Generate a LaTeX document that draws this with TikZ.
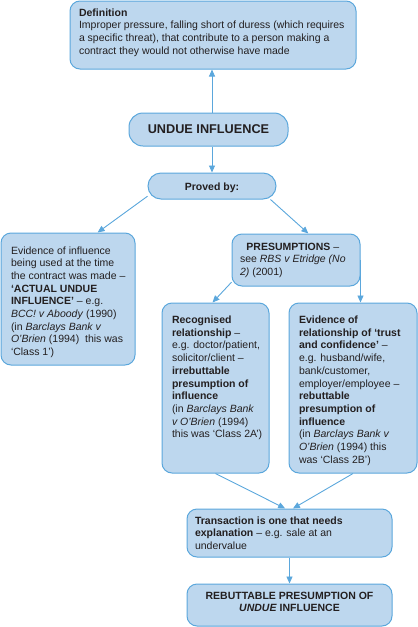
\documentclass[tikz,border=0pt]{standalone}
\usepackage{fontspec}
\setmainfont{Liberation Sans}
\usetikzlibrary{arrows.meta}
\definecolor{boxfill}{HTML}{BDD7EE}
\definecolor{boxline}{HTML}{5BA7DC}
\definecolor{ink}{HTML}{231F20}
% lines set left, in a box of fixed width
\newcommand{\rows}[2]{\makebox[#1][l]{\begin{tabular}[t]{@{}l@{}}#2\end{tabular}}}

\begin{document}
\begin{tikzpicture}[x=1pt,y=1pt,
  bx/.style={draw=boxline,fill=boxfill,line width=1pt,rounded corners=10pt,
    inner sep=0pt,text=ink,font=\fontsize{10.5}{12.7}\selectfont},
  sized/.style n args={3}{minimum width=#1,text height=#2,text depth=#3},
  link/.style={draw=boxline,line width=0.9pt,-{Triangle[length=7pt,width=6pt]}}]
\useasboundingbox (0,0) rectangle (418,-627);

\node[bx,sized={286pt}{15pt}{53pt}] (def) at (213,-35)
  {\rows{268pt}{\textbf{Definition}\\
   Improper pressure, falling short of duress (which requires\\
   a specific threat), that contribute to a person making a\\
   contract they would not otherwise have made}};
\node[bx,sized={159pt}{20.5pt}{12.5pt},rounded corners=14pt,font=\fontsize{12.7}{15}\selectfont\bfseries] (ui) at (208.5,-129.5) {UNDUE INFLUENCE};
\node[bx,sized={128pt}{17.7pt}{8.3pt},rounded corners=13pt] (pv) at (212,-186) {\textbf{Proved by:}};

\node[bx,sized={134pt}{21pt}{111pt}] (act) at (68,-299)
  {\rows{114pt}{Evidence of influence\\ being used at the time\\ the contract was made –\\
   \textbf{‘ACTUAL UNDUE}\\ \textbf{INFLUENCE’} – e.g.\\ \textit{BCC! v Aboody} (1990)\\
   (in \textit{Barclays Bank v}\\ \textit{O’Brien} (1994)\ \ this was\\ ‘Class 1’)}};
\node[bx,sized={128pt}{16pt}{36pt}] (pres) at (296,-260)
  {\rows{112pt}{\multicolumn{1}{@{}c@{}}{\textbf{PRESUMPTIONS} –}\\
   see \textit{RBS v Etridge (No}\\ \textit{2)} (2001)}};

\node[bx,sized={107pt}{20.5pt}{149.5pt}] (rec) at (215.5,-388)
  {\rows{87pt}{\textbf{Recognised}\\ \textbf{relationship} –\\ e.g. doctor/patient,\\
   solicitor/client –\\ \textbf{irrebuttable}\\ \textbf{presumption of}\\ \textbf{influence}\\
   (in \textit{Barclays Bank}\\ \textit{v O’Brien} (1994)\\ this was ‘Class 2A’)}};
\node[bx,sized={128pt}{20.5pt}{149.5pt}] (ev) at (353,-388)
  {\rows{108pt}{\textbf{Evidence of}\\ \textbf{relationship of ‘trust}\\ \textbf{and confidence’} –\\
   e.g. husband/wife,\\ bank/customer,\\ employer/employee –\\ \textbf{rebuttable}\\
   \textbf{presumption of}\\ \textbf{influence}\\ (in \textit{Barclays Bank v}\\
   \textit{O’Brien} (1994) this\\ was ‘Class 2B’)}};

\node[bx,sized={205pt}{15pt}{33pt}] (trans) at (289.5,-533)
  {\rows{189pt}{\textbf{Transaction is one that needs}\\
   \textbf{explanation} – e.g. sale at an\\ undervalue}};
\node[bx,sized={205pt}{15pt}{27pt},font=\fontsize{10.5}{12.7}\selectfont\bfseries] (reb) at (289.5,-605)
  {\begin{tabular}[t]{@{}c@{}}REBUTTABLE PRESUMPTION OF\\ \textit{UNDUE} INFLUENCE\end{tabular}};

\draw[link] (ui.north -| pv.north) -- (def.south -| pv.north);
\draw[link] (ui.south -| pv.north) -- (pv.north);
\draw[link] (pv.189) -- (act.66);
\draw[link] (pv.347) -- (pres.65);
\draw[link] (pres.199) -- (rec.92);
\draw[link] (pres.east) -- (pres.east |- ev.north);
\draw[link] (rec.south) -- (trans.100);
\draw[link] (ev.south) -- (trans.82);
\draw[link] (trans.south) -- (reb.north);
\end{tikzpicture}
\end{document}
